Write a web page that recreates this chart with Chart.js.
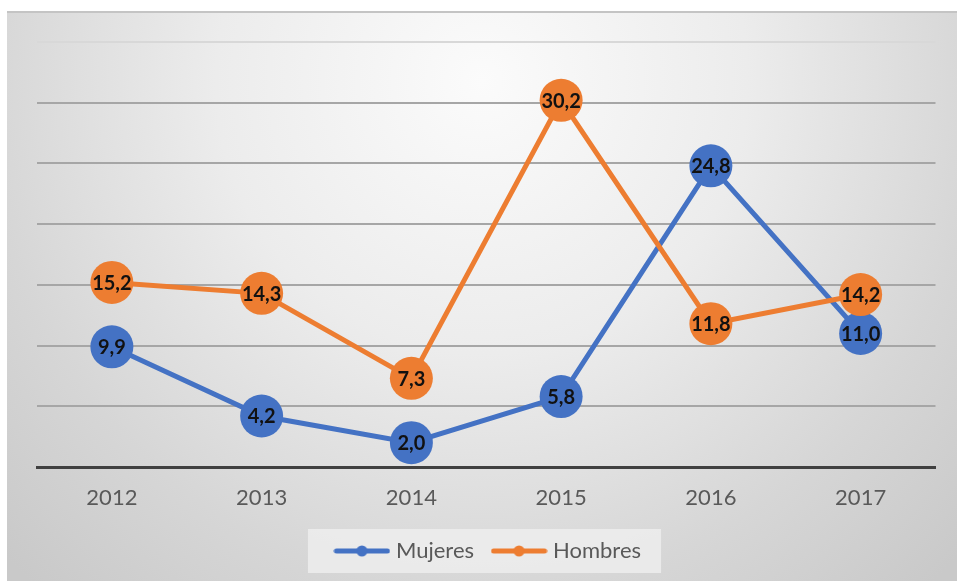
<!DOCTYPE html>
<html>
<head>
<meta charset="utf-8">
<script src="https://cdn.jsdelivr.net/npm/chart.js@4.4.1/dist/chart.umd.min.js"></script>
<style>
  html, body { margin: 0; padding: 0; background: #fff; }
  #box {
    position: absolute; left: 7px; top: 11px; width: 950px; height: 570px;
    border-top: 2px solid #c4c4c4;
    box-sizing: border-box;
    background: radial-gradient(ellipse 70% 120% at 50% 12%, #fbfbfb 0%, #ececec 40%, #d6d6d6 75%, #c9c9c9 100%);
  }
</style>
</head>
<body>
<div id="box"><canvas id="myChart"></canvas></div>
<script>
// data
var years = ["2012", "2013", "2014", "2015", "2016", "2017"];
var mujeres = [9.9, 4.2, 2.0, 5.8, 24.8, 11.0];
var hombres = [15.2, 14.3, 7.3, 30.2, 11.8, 14.2];
var seriesNames = ["Mujeres", "Hombres"];

var azul = "#4472C4";
var naranja = "#ED7D31";

// little line+dot picture for the legend
function legendMark(color) {
  var c = document.createElement("canvas");
  c.width = 57; c.height = 14;
  var g = c.getContext("2d");
  g.strokeStyle = color; g.lineWidth = 5; g.lineCap = "round";
  g.beginPath(); g.moveTo(3, 7); g.lineTo(54, 7); g.stroke();
  g.fillStyle = color;
  g.beginPath(); g.arc(28.5, 7, 5.5, 0, Math.PI * 2); g.fill();
  return c;
}
var marks = [legendMark(azul), legendMark(naranja)];

var valueLabels = {
  id: "valueLabels",
  afterDatasetsDraw: function(chart) {
    var ctx = chart.ctx;
    ctx.save();
    ctx.font = "bold 20px Lato";
    ctx.fillStyle = "#111";
    ctx.textAlign = "center";
    ctx.textBaseline = "middle";
    chart.data.datasets.forEach(function(ds, i) {
      chart.getDatasetMeta(i).data.forEach(function(pt, j) {
        ctx.fillText(ds.data[j].toFixed(1).replace(".", ","), pt.x, pt.y + 1);
      });
    });
    ctx.restore();
  }
};

var legendBack = {
  id: "legendBack",
  beforeDraw: function(chart) {
    var hb = chart.legend.legendHitBoxes;
    if (!hb || !hb.length) return;
    var first = hb[0], last = hb[hb.length - 1];
    var ctx = chart.ctx;
    ctx.save();
    ctx.fillStyle = "rgba(240,240,240,0.75)";
    ctx.fillRect(first.left - 31, first.top - 11, (last.left + last.width + 20) - (first.left - 31), first.height + 22);
    ctx.restore();
  }
};

new Chart("myChart", {
  type: "line",
  data: {
    labels: years,
    datasets: [{
      label: seriesNames[0],
      data: mujeres,
      borderColor: azul,
      backgroundColor: azul,
      borderWidth: 5,
      pointRadius: 21.5,
      pointBorderWidth: 0,
      order: 1
    }, {
      label: seriesNames[1],
      data: hombres,
      borderColor: naranja,
      backgroundColor: naranja,
      borderWidth: 5,
      pointRadius: 21.5,
      pointBorderWidth: 0,
      order: 0
    }]
  },
  options: {
    responsive: true,
    maintainAspectRatio: false,
    animation: false,
    layout: { padding: { left: 30, right: 14, top: 29, bottom: 9 } },
    scales: {
      x: {
        offset: true,
        grid: { display: false, drawTicks: false },
        border: { color: "#404040", width: 3 },
        ticks: { color: "#595959", font: { family: "Lato", size: 22 }, padding: 18 },
        afterFit: function(s) { s.height = 62; }
      },
      y: {
        min: 0, max: 35,
        ticks: { display: false, stepSize: 5 },
        border: { display: false },
        grid: {
          drawTicks: false,
          lineWidth: 2,
          color: function(c) {
            if (c.tick.value === 35) return "#d8d8d8";
            if (c.tick.value === 0) return "rgba(0,0,0,0)";
            return "#a6a6a6";
          }
        }
      }
    },
    plugins: {
      tooltip: { enabled: false },
      legend: {
        position: "bottom",
        labels: {
          usePointStyle: true,
          pointStyleWidth: 46,
          padding: 11,
          color: "#595959",
          font: { family: "Lato", size: 22 },
          sort: function(a, b) { return a.datasetIndex - b.datasetIndex; },
          generateLabels: function(chart) {
            var items = Chart.defaults.plugins.legend.labels.generateLabels(chart);
            items.forEach(function(it) {
              it.pointStyle = marks[it.datasetIndex];
              if (it.datasetIndex === 0) it.text = it.text + "\u2002";
            });
            return items;
          }
        }
      }
    }
  },
  plugins: [legendBack, valueLabels]
});
</script>
</body>
</html>
